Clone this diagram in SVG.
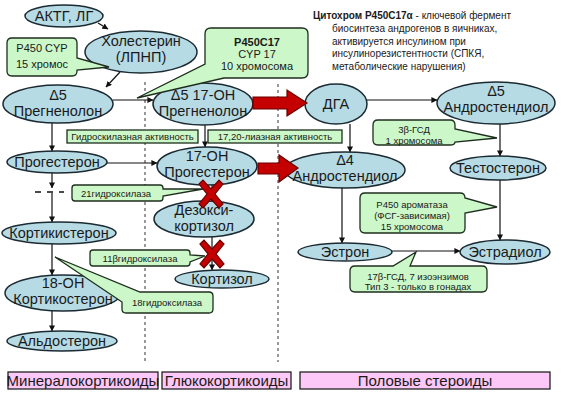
<svg xmlns="http://www.w3.org/2000/svg" width="561" height="398" viewBox="0 0 561 398">
<defs>
<marker id="ah" viewBox="0 0 8 8" refX="7.5" refY="4" markerWidth="6" markerHeight="6" orient="auto" markerUnits="userSpaceOnUse">
<path d="M0,0 L8,4 L0,8 Z" fill="#111"/>
</marker>
<style>
.n{fill:#b7dbe4;stroke:#1b2a33;stroke-width:1.5}
.t{font-family:"Liberation Sans",Arial,sans-serif;font-size:14.5px;fill:#1a1a1a;text-anchor:middle}
.b{font-family:"Liberation Sans",Arial,sans-serif;font-size:15px;fill:#1a1a1a;text-anchor:middle}
.c{fill:#ccf7c8;stroke:#1e2e1e;stroke-width:1.3}
.ct{font-family:"Liberation Sans",Arial,sans-serif;font-size:9.5px;fill:#1a1a1a;text-anchor:middle}
.tt{font-family:"Liberation Sans",Arial,sans-serif;font-size:10px;fill:#1a1a1a}
.e{stroke:#111;stroke-width:1.2;fill:none;marker-end:url(#ah)}
.d{stroke:#333;stroke-width:1;stroke-dasharray:3,3;fill:none}
.p{fill:#fcc8f8;stroke:#222;stroke-width:1.3}
.red{fill:#c40000;stroke:#6a0000;stroke-width:1.2}
</style>
</defs>
<rect width="561" height="398" fill="#fff"/>

<g id="dividers">
<line class="d" x1="145" y1="82" x2="145" y2="362"/>
<line class="d" x1="278" y1="84" x2="278" y2="362"/>
</g>

<g id="title">
<text class="tt" x="313" y="19"><tspan font-weight="bold">Цитохром P450C17α</tspan> - ключевой фермент</text>
<text class="tt" x="332" y="32">биосинтеза андрогенов в яичниках,</text>
<text class="tt" x="332" y="44.5">активируется инсулином при</text>
<text class="tt" x="332" y="57">инсулинорезистентности (СПКЯ,</text>
<text class="tt" x="332" y="69.5">метаболические нарушения)</text>
</g>

<g id="connectors">
<line class="e" x1="98" y1="23" x2="108" y2="29"/>
<line class="e" x1="120" y1="72" x2="106" y2="87"/>
<line class="e" x1="113" y1="100" x2="153" y2="100"/>
<line class="e" x1="367" y1="100" x2="437" y2="100"/>
<line class="e" x1="52" y1="123" x2="52" y2="151"/>
<line class="e" x1="205" y1="125" x2="205" y2="147"/>
<line class="e" x1="350" y1="124" x2="350" y2="152"/>
<line class="e" x1="500" y1="124" x2="500" y2="156"/>
<line class="e" x1="107" y1="163" x2="157" y2="163"/>
<line class="e" x1="52" y1="173" x2="52" y2="188"/>
<line x1="35" y1="192" x2="64" y2="192" style="stroke:#111;stroke-width:1.3;stroke-dasharray:6,6"/>
<line class="e" x1="52" y1="193" x2="52" y2="222"/>
<line class="e" x1="52" y1="244" x2="52" y2="275"/>
<line class="e" x1="52" y1="311" x2="52" y2="331"/>
<line class="e" x1="212" y1="185" x2="212" y2="201"/>
<line class="e" x1="212" y1="237" x2="212" y2="270"/>
<line class="e" x1="342" y1="188" x2="342" y2="243"/>
<line class="e" x1="500" y1="180" x2="500" y2="240"/>
<line class="e" x1="392" y1="251" x2="460" y2="251"/>
</g>

<g id="n-aktg"><ellipse class="n" cx="64" cy="16" rx="39" ry="11"/><text class="t" x="64" y="21">АКТГ, ЛГ</text></g>
<g id="n-chol"><ellipse class="n" cx="141" cy="52" rx="56" ry="21"/><text class="t" x="141" y="46">Холестерин</text><text class="t" x="141" y="62">(ЛПНП)</text></g>
<g id="n-preg"><ellipse class="n" cx="58" cy="104" rx="55" ry="19"/><text class="t" x="58" y="100">Δ5</text><text class="t" x="58" y="116">Прегненолон</text></g>
<g id="n-ohpreg"><ellipse class="n" cx="203" cy="104" rx="50" ry="21"/><text class="t" x="203" y="100">Δ5 17-OH</text><text class="t" x="203" y="116">Прегненолон</text></g>
<g id="n-dga"><ellipse class="n" cx="336" cy="104" rx="31" ry="20"/><text class="t" x="336" y="109">ДГА</text></g>
<g id="n-d5andr"><ellipse class="n" cx="496" cy="103" rx="59" ry="21"/><text class="t" x="496" y="96">Δ5</text><text class="t" x="496" y="112">Андростендиол</text></g>
<g id="n-prog"><ellipse class="n" cx="57" cy="162" rx="50" ry="11"/><text class="t" x="57" y="167">Прогестерон</text></g>
<g id="n-ohprog"><ellipse class="n" cx="207" cy="166" rx="50" ry="19"/><text class="t" x="207" y="161">17-OH</text><text class="t" x="207" y="177">Прогестерон</text></g>
<g id="n-d4andr"><ellipse class="n" cx="345" cy="170" rx="60" ry="18"/><text class="t" x="345" y="165">Δ4</text><text class="t" x="345" y="181">Андростендиол</text></g>
<g id="n-test"><ellipse class="n" cx="498" cy="168" rx="48" ry="12"/><text class="t" x="498" y="173">Тестостерон</text></g>
<g id="n-deoxy"><ellipse class="n" cx="204" cy="219" rx="50" ry="18"/><text class="t" x="204" y="215">Дезокси-</text><text class="t" x="204" y="231">кортизол</text></g>
<g id="n-cortic"><ellipse class="n" cx="59" cy="233" rx="57" ry="11"/><text class="t" x="59" y="238">Кортикистерон</text></g>
<g id="n-cortisol"><ellipse class="n" cx="222" cy="279" rx="47" ry="9"/><text class="t" x="222" y="284">Кортизол</text></g>
<g id="n-18oh"><ellipse class="n" cx="63" cy="293" rx="58" ry="18"/><text class="t" x="63" y="288">18-OH</text><text class="t" x="63" y="304">Кортикостерон</text></g>
<g id="n-aldo"><ellipse class="n" cx="62" cy="341" rx="55" ry="10"/><text class="t" x="62" y="346">Альдостерон</text></g>
<g id="n-estron"><ellipse class="n" cx="345" cy="252" rx="47" ry="9"/><text class="t" x="345" y="257">Эстрон</text></g>
<g id="n-estradiol"><ellipse class="n" cx="505" cy="252" rx="45" ry="12"/><text class="t" x="505" y="257">Эстрадиол</text></g>

<g id="c-p450cyp"><path class="c" d="M12,38 H72 Q77,38 77,43 V58 L109,67 L77,70 V71 Q77,76 72,76 H12 Q7,76 7,71 V43 Q7,38 12,38 Z"/>
<text class="ct" style="font-size:11px" x="42" y="52">P450 CYP</text><text class="ct" style="font-size:11px" x="42" y="68">15 хромос</text></g>
<g id="c-p450c17"><path class="c" d="M211,28 H302 Q308,28 308,34 V72 Q308,78 302,78 H224 L137,98 L205,64 V34 Q205,28 211,28 Z"/>
<text class="ct" style="font-size:11px;font-weight:bold" x="257" y="46">P450C17</text><text class="ct" style="font-size:11px" x="257" y="58">CYP 17</text><text class="ct" style="font-size:11px" x="257" y="70">10 хромосома</text></g>
<g id="c-hydrox"><rect class="c" x="67" y="130" width="131" height="13"/><text class="ct" x="132.5" y="140">Гидроскилазная активность</text></g>
<g id="c-lyase"><rect class="c" x="208" y="130" width="134" height="13"/><text class="ct" x="275" y="140">17,20-лиазная активность</text></g>
<g id="c-21"><path class="c" d="M75,185 H160 Q163,185 163,188 V189 L203,189 L163,196 V198 Q163,201 160,201 H75 Q72,201 72,198 V188 Q72,185 75,185 Z"/><text class="ct" x="116" y="196.5">21гидроксилаза</text></g>
<g id="c-11b"><path class="c" d="M93,250 H187 Q190,250 190,253 V255 L205,256 L190,262 V263 Q190,266 187,266 H93 Q90,266 90,263 V253 Q90,250 93,250 Z"/><text class="ct" x="140" y="261.5">11βгидроксилаза</text></g>
<g id="c-18"><path class="c" d="M140,292 H209 Q213,292 213,296 V309 Q213,313 209,313 H126 Q122,313 122,309 V302 L55,257 Z"/><text class="ct" x="167" y="306">18гидроксилаза</text></g>
<g id="c-3b"><path class="c" d="M378,120 H450 Q455,120 455,125 V129 L497,138 L455,142 Q455,145 450,145 H378 Q373,145 373,140 V125 Q373,120 378,120 Z"/><text class="ct" x="414" y="133">3β-ГСД</text><text class="ct" x="414" y="144">1 хромосома</text></g>
<g id="c-arom"><path class="c" d="M365,193 H460 Q465,193 465,198 V198 L497,207 L465,213 V228 Q465,233 460,233 H365 Q360,233 360,228 V198 Q360,193 365,193 Z"/><text class="ct" x="412" y="208">P450 ароматаза</text><text class="ct" x="412" y="219">(ФСГ-зависимая)</text><text class="ct" x="412" y="230">15 хромосома</text></g>
<g id="c-17b"><path class="c" d="M355,266 H393 L416,252 L410,266 H482 Q487,266 487,271 V287 Q487,292 482,292 H355 Q350,292 350,287 V271 Q350,266 355,266 Z"/><text class="ct" x="418" y="280">17β-ГСД, 7 изоэнзимов</text><text class="ct" x="418" y="290">Тип 3 - только в гонадах</text></g>

<g id="red-arrows">
<path class="red" d="M253,97 H287 V90 L307,103 L287,116 V109 H253 Z"/>
<path class="red" d="M258,163 H279 V155 L298,168 L279,182 V174 H258 Z"/>
</g>
<g id="crosses">
<path class="red" transform="translate(211,194)" d="M-12,-10 L-8,-14 L0,-5 L8,-14 L12,-10 L4,0 L12,10 L8,14 L0,5 L-8,14 L-12,10 L-4,0 Z"/>
<path class="red" transform="translate(212,254)" d="M-12,-10 L-8,-14 L0,-5 L8,-14 L12,-10 L4,0 L12,10 L8,14 L0,5 L-8,14 L-12,10 L-4,0 Z"/>
</g>

<g id="l-mineral"><rect class="p" x="8" y="372" width="150" height="17"/><text class="b" x="83" y="386">Минералокортикоиды</text></g>
<g id="l-gluco"><rect class="p" x="162" y="372" width="129" height="17"/><text class="b" x="226.5" y="386">Глюкокортикоиды</text></g>
<g id="l-sex"><rect class="p" x="300" y="372" width="250" height="17"/><text class="b" x="425" y="386">Половые стероиды</text></g>
</svg>
